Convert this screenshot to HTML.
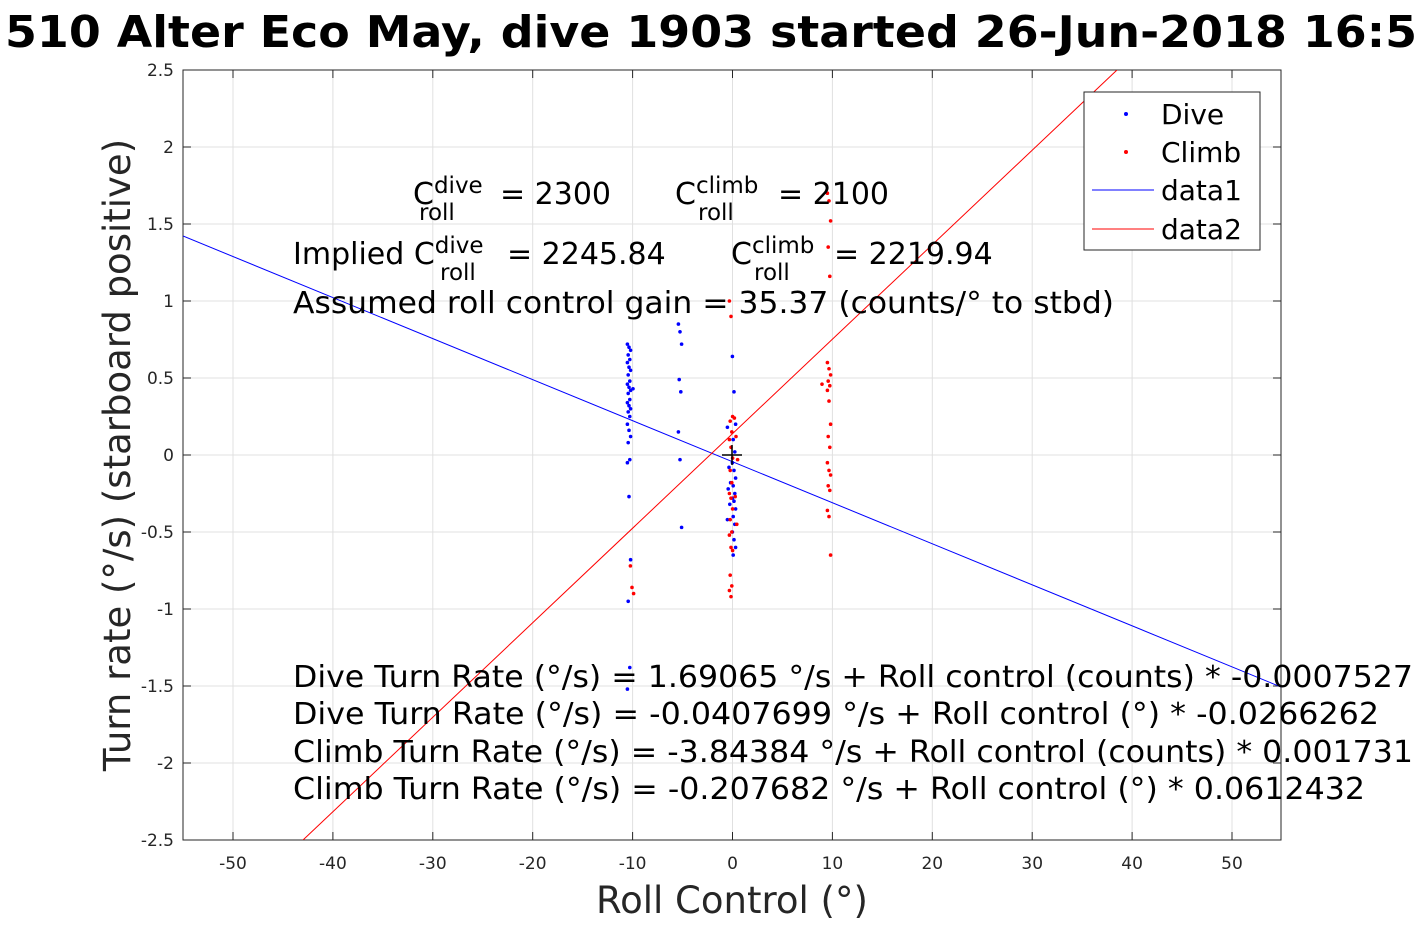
<!DOCTYPE html>
<html><head><meta charset="utf-8"><style>
html,body{margin:0;padding:0;background:#fff;}
svg{display:block;font-family:"DejaVu Sans","Liberation Sans",sans-serif;}
</style></head><body>
<svg id="s" width="1417" height="945" viewBox="0 0 1417 945" xmlns="http://www.w3.org/2000/svg">
<rect width="1417" height="945" fill="#fff"/>
<g id="grid" stroke="#e0e0e0" stroke-width="1"></g>
<rect x="183" y="70" width="1098" height="770" fill="none" stroke="#262626" stroke-width="1"/>
<g id="ticks" font-size="17" fill="#262626"></g>
<clipPath id="c"><rect x="183" y="70" width="1098" height="770"/></clipPath>
<g clip-path="url(#c)">
<line x1="183" y1="236" x2="1281" y2="687" stroke="#0000ff" stroke-width="1"/>
<line x1="303" y1="840" x2="1117" y2="70" stroke="#ff0000" stroke-width="1"/>
<g id="dots"></g>
<line x1="722" y1="455" x2="742" y2="455" stroke="#000" stroke-width="1.5"/>
<line x1="732" y1="445" x2="732" y2="465" stroke="#000" stroke-width="1.5"/>
</g>
<text x="5" y="47" font-size="44" font-weight="bold" fill="#000" textLength="1412" lengthAdjust="spacingAndGlyphs">510 Alter Eco May, dive 1903 started 26-Jun-2018 16:5</text>
<text x="732" y="913" font-size="37" text-anchor="middle" fill="#262626">Roll Control (°)</text>
<text transform="translate(130,455) rotate(-90)" font-size="37" text-anchor="middle" fill="#262626">Turn rate (°/s) (starboard positive)</text>
<g font-size="30" fill="#000">
<text x="413" y="204">C<tspan font-size="23" dy="-11">dive</tspan><tspan font-size="23" x="419" dy="27">roll</tspan><tspan x="500" dy="-16">= 2300</tspan></text>
<text x="675" y="204">C<tspan font-size="23" dy="-11">climb</tspan><tspan font-size="23" x="698" dy="27">roll</tspan><tspan x="778" dy="-16">= 2100</tspan></text>
<text x="293" y="264">Implied C<tspan font-size="23" dy="-11">dive</tspan><tspan font-size="23" x="440" dy="27">roll</tspan><tspan x="507" dy="-16">= 2245.84</tspan></text>
<text x="731" y="264">C<tspan font-size="23" dy="-11">climb</tspan><tspan font-size="23" x="754" dy="27">roll</tspan><tspan x="834" dy="-16">= 2219.94</tspan></text>
<text x="293" y="313" textLength="821" lengthAdjust="spacingAndGlyphs">Assumed roll control gain = 35.37 (counts/° to stbd)</text>
<text x="293" y="687" textLength="1120" lengthAdjust="spacingAndGlyphs">Dive Turn Rate (°/s) = 1.69065 °/s + Roll control (counts) * -0.0007527</text>
<text x="293" y="724" textLength="1086" lengthAdjust="spacingAndGlyphs">Dive Turn Rate (°/s) = -0.0407699 °/s + Roll control (°) * -0.0266262</text>
<text x="293" y="762" textLength="1120" lengthAdjust="spacingAndGlyphs">Climb Turn Rate (°/s) = -3.84384 °/s + Roll control (counts) * 0.001731</text>
<text x="293" y="799" textLength="1072" lengthAdjust="spacingAndGlyphs">Climb Turn Rate (°/s) = -0.207682 °/s + Roll control (°) * 0.0612432</text>
</g>
<rect x="1084" y="92" width="176" height="158" fill="#fff" stroke="#262626" stroke-width="1"/>
<g font-size="28" fill="#000">
<circle cx="1126" cy="114" r="2" fill="#00f"/><text x="1161" y="124">Dive</text>
<circle cx="1126" cy="152" r="2" fill="#f00"/><text x="1161" y="162">Climb</text>
<line x1="1092" y1="190" x2="1154" y2="190" stroke="#00f"/><text x="1161" y="200">data1</text>
<line x1="1092" y1="229" x2="1154" y2="229" stroke="#f00"/><text x="1161" y="239">data2</text>
</g>
</svg>
<script>
var NS="http://www.w3.org/2000/svg",g=document.getElementById('grid'),t=document.getElementById('ticks'),d=document.getElementById('dots');
function el(p,tag,a,txt){var e=document.createElementNS(NS,tag);for(var k in a)e.setAttribute(k,a[k]);if(txt)e.textContent=txt;p.appendChild(e);}
function X(v){return 732.5+v*9.99}function Y(v){return 455-v*154}
for(var v=-50;v<=50;v+=10){el(g,'line',{x1:X(v),y1:70,x2:X(v),y2:840});el(t,'line',{x1:X(v),y1:840,x2:X(v),y2:832,stroke:'#262626'});el(t,'line',{x1:X(v),y1:70,x2:X(v),y2:78,stroke:'#262626'});el(t,'text',{x:X(v),y:869,'text-anchor':'middle'},String(v));}
for(var i=-5;i<=5;i++){var v=i/2;el(g,'line',{x1:183,y1:Y(v),x2:1281,y2:Y(v)});el(t,'line',{x1:183,y1:Y(v),x2:191,y2:Y(v),stroke:'#262626'});el(t,'line',{x1:1281,y1:Y(v),x2:1273,y2:Y(v),stroke:'#262626'});el(t,'text',{x:174,y:Y(v)+6,'text-anchor':'end'},String(v));}
function pts(x,list,c){list.forEach(function(v,j){el(d,'circle',{cx:x+((j*7)%5-2)*0.8,cy:Y(v),r:1.8,fill:c});});}
pts(629,[0.72,0.7,0.68,0.65,0.62,0.6,0.57,0.55,0.52,0.48,0.46,0.44,0.42,0.4,0.36,0.34,0.32,0.3,0.28,0.25,0.2,0.16,0.12,0.08,-0.03,-0.05,-0.27,-0.68,-0.95,-1.38,-1.52],'#00f');
el(d,'circle',{cx:633,cy:Y(0.43),r:1.8,fill:'#00f'});
pts(680,[0.85,0.8,0.72,0.49,0.41,0.15,-0.03,-0.47],'#00f');
pts(734,[0.64,0.41,0.2,0.1,0.02,-0.05,-0.1,-0.15,-0.2,-0.25,-0.28,-0.3,-0.35,-0.4,-0.45,-0.5,-0.55,-0.6,-0.65],'#00f');
pts(729,[0.18,-0.08,-0.18,-0.22,-0.32,-0.42],'#00f');
pts(632,[-0.72,-0.86,-0.9],'#f00');
pts(731,[1.0,0.9,0.25,0.22,0.15,0.1,0.05,-0.02,-0.1,-0.18,-0.25,-0.28,-0.35,-0.42,-0.5,-0.52,-0.6,-0.62,-0.78,-0.85,-0.88,-0.92],'#f00');
pts(736,[0.24,0.12,-0.03,-0.27,-0.45],'#f00');
pts(829,[1.7,1.65,1.52,1.35,1.16,0.6,0.56,0.52,0.48,0.45,0.42,0.35,0.2,0.12,0.05,-0.05,-0.1,-0.13,-0.2,-0.23,-0.36,-0.4,-0.65],'#f00');
el(d,'circle',{cx:822,cy:Y(0.46),r:1.8,fill:'#f00'});
</script>
</body></html>
